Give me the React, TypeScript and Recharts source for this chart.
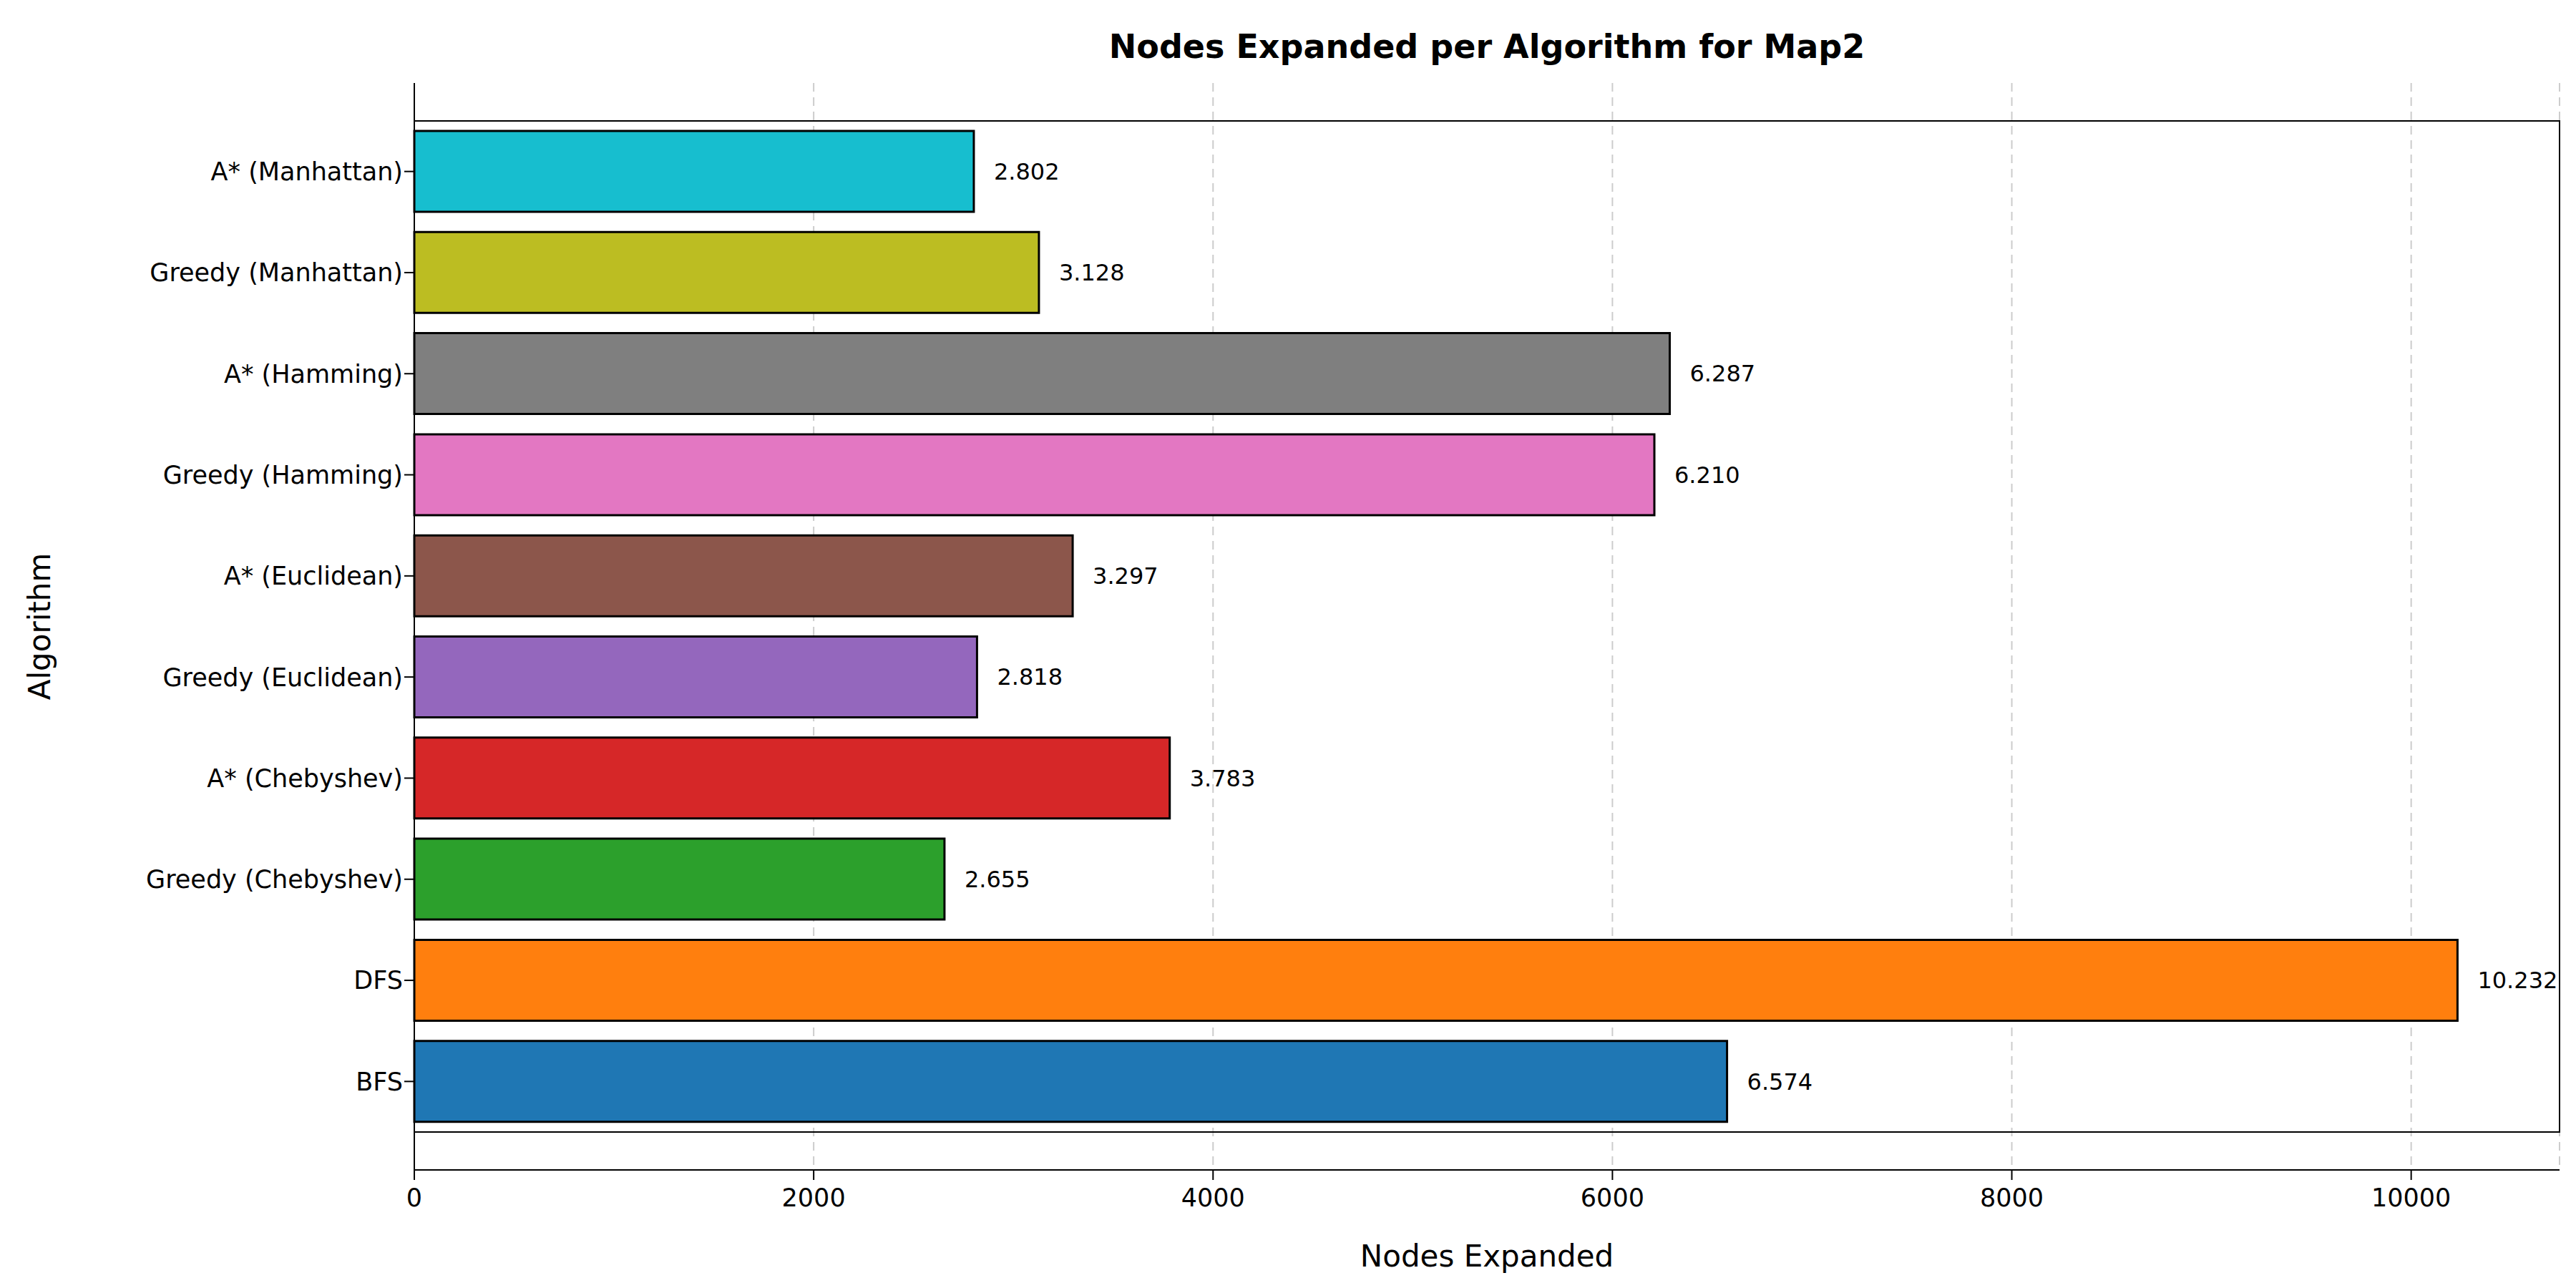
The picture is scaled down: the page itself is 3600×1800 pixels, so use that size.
import React from "react";
import { BarChart, Bar, XAxis, YAxis, CartesianGrid, Cell, LabelList, ReferenceArea } from "recharts";

const algorithms = [
  "A* (Manhattan)",
  "Greedy (Manhattan)",
  "A* (Hamming)",
  "Greedy (Hamming)",
  "A* (Euclidean)",
  "Greedy (Euclidean)",
  "A* (Chebyshev)",
  "Greedy (Chebyshev)",
  "DFS",
  "BFS",
];
const nodesExpanded = [2802, 3128, 6287, 6210, 3297, 2818, 3783, 2655, 10232, 6574];
const colors = [
  "#17becf", "#bcbd22", "#7f7f7f", "#e377c2", "#8c564b",
  "#9467bd", "#d62728", "#2ca02c", "#ff7f0e", "#1f77b4",
];
const xTicks = [0, 2000, 4000, 6000, 8000, 10000];
const xMax = 10743;

const data = algorithms.map((name, i) => ({ name, value: nodesExpanded[i] }));

const fmt = (v: number) => v.toLocaleString("de-DE");

export default function App() {
  const font = "DejaVu Sans, sans-serif";
  return (
    <div style={{ position: "absolute", left: 0, top: 0, width: 3600, height: 1800, background: "#fff", fontFamily: font }}>
      <div style={{ position: "absolute", left: 579, width: 2998, top: 38, textAlign: "center", fontWeight: "bold", fontSize: 46 }}>
        Nodes Expanded per Algorithm for Map2
      </div>
      <BarChart width={3600} height={1800} data={data} layout="vertical" margin={{ top: 116, right: 23, bottom: 0, left: 0 }} barCategoryGap={0}>
        <CartesianGrid horizontal={false} stroke="#cccccc" strokeDasharray="12 8" strokeWidth={2} />
        <XAxis
          type="number"
          domain={[0, xMax]}
          ticks={xTicks}
          height={165}
          tick={{ fill: "#000", fontSize: 35, fontFamily: font, dy: 10 }}
          tickLine={{ stroke: "#000", strokeWidth: 2 }}
          tickSize={14}
          axisLine={{ stroke: "#000", strokeWidth: 2 }}
          label={{ value: "Nodes Expanded", position: "insideBottom", offset: 30, fill: "#000", fontSize: 42, fontFamily: font }}
        />
        <YAxis
          type="category"
          dataKey="name"
          width={579}
          padding={{ top: 53, bottom: 53 }}
          tick={{ fill: "#000", fontSize: 35, fontFamily: font }}
          tickLine={{ stroke: "#000", strokeWidth: 2 }}
          tickSize={14}
          axisLine={{ stroke: "#000", strokeWidth: 2 }}
          label={{ value: "Algorithm", angle: -90, position: "insideLeft", offset: 55, fill: "#000", fontSize: 42, fontFamily: font, style: { textAnchor: "middle" } }}
        />
        <ReferenceArea x1={0} x2={xMax} fill="none" stroke="#000" strokeWidth={2} ifOverflow="visible" />
        <Bar dataKey="value" barSize={113} stroke="#000" strokeWidth={3} isAnimationActive={false}>
          {data.map((d, i) => (
            <Cell key={d.name} fill={colors[i]} />
          ))}
          <LabelList dataKey="value" position="right" offset={28} formatter={(v: number) => fmt(v)} style={{ fill: "#000", fontSize: 32, fontFamily: font }} />
        </Bar>
      </BarChart>
    </div>
  );
}
